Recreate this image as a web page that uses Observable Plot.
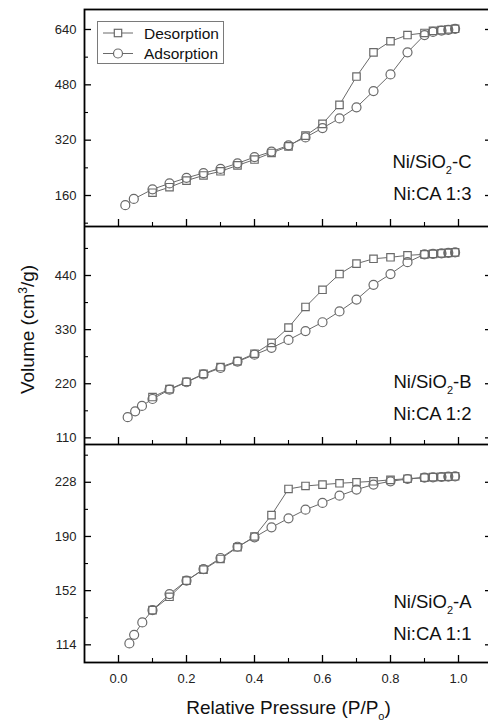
<!DOCTYPE html>
<html>
<head>
<meta charset="utf-8">
<script src="https://cdn.jsdelivr.net/npm/d3@7"></script>
<script src="https://cdn.jsdelivr.net/npm/@observablehq/plot@0.6"></script>
<style>
  html, body { margin: 0; padding: 0; background: #fff; overflow: hidden; }
  #wrap { position: relative; width: 488px; height: 726px; overflow: hidden; background: #fff; }
  #wrap svg { display: block; max-width: none !important; }
  #legend { position: absolute; left: 97px; top: 21px; }
</style>
</head>
<body>
<div id="wrap"></div>
<script>
// ---------- data ----------
const xMajor = [0, 0.2, 0.4, 0.6, 0.8, 1.0];
const xMinor = [0.1, 0.3, 0.5, 0.7, 0.9];
const desP = [0.99, 0.97, 0.95, 0.925, 0.9, 0.85, 0.8, 0.75, 0.7, 0.65, 0.6, 0.55, 0.5, 0.45, 0.4, 0.35, 0.3, 0.25, 0.2, 0.15, 0.1];

// Ni/SiO2-C (Ni:CA 1:3)
const cAdsP = [0.02, 0.045, 0.1, 0.15, 0.2, 0.25, 0.3, 0.35, 0.4, 0.45, 0.5, 0.55, 0.6, 0.65, 0.7, 0.75, 0.8, 0.85, 0.9, 0.925, 0.95, 0.97, 0.99];
const cAdsV = [132, 150, 178, 195, 211, 225, 237, 253, 271, 287, 305, 328, 355, 383, 415, 462, 510, 574, 624, 633, 637, 639, 642];
const cDesV = [642, 640, 638, 636, 630, 624, 606, 574, 504, 422, 367, 333, 302, 283, 264, 247, 230, 218, 203, 184, 168];
const cMajor = [160, 320, 480, 640];
const cMinor = [80, 240, 400, 560];

// Ni/SiO2-B (Ni:CA 1:2)
const bAdsP = [0.027, 0.049, 0.069, 0.1, 0.15, 0.2, 0.25, 0.3, 0.35, 0.4, 0.45, 0.5, 0.55, 0.6, 0.65, 0.7, 0.75, 0.8, 0.85, 0.9, 0.925, 0.95, 0.97, 0.99];
const bAdsV = [152, 164, 175, 189, 208, 223, 239, 252, 265, 279, 293, 309, 327, 345, 367, 391, 421, 443, 467, 483, 484, 485, 486, 487];
const bDesV = [487, 486, 485, 484, 483, 481, 477, 474, 464, 443, 411, 376, 334, 303, 281, 266, 254, 240, 224, 209, 193];
const bMajor = [110, 220, 330, 440];
const bMinor = [165, 275, 385, 495];

// Ni/SiO2-A (Ni:CA 1:1)
const aAdsP = [0.032, 0.046, 0.07, 0.1, 0.15, 0.2, 0.25, 0.3, 0.35, 0.4, 0.45, 0.5, 0.55, 0.6, 0.65, 0.7, 0.75, 0.8, 0.85, 0.9, 0.925, 0.95, 0.97, 0.99];
const aAdsV = [115, 121, 129.7, 138.3, 149.6, 159, 167.1, 174.9, 182.8, 189.4, 196.4, 202.7, 208.8, 213.5, 218.6, 222.9, 226.4, 228.7, 230.3, 231.3, 231.5, 231.7, 232, 232.2];
const aDesV = [232.2, 232, 231.8, 231.6, 231.3, 230.5, 229.7, 228.7, 228, 227.3, 226.4, 225.4, 223.3, 205, 190, 182.4, 174.2, 166.7, 159, 147.7, 138.3];
const aMajor = [114, 152, 190, 228];
const aMinor = [133, 171, 209, 247];

const seriesNames = ["Desorption", "Adsorption"];
const yLabel = "Volume (cm3/g)";
const xLabel = "Relative Pressure (P/Po)";

// ---------- styling ----------
const FONT = "'Liberation Sans', Arial, Helvetica, sans-serif";
const W = 492, ML = 84;
const PW = W - ML;
const GRAY = "#6a6a6a";

function rows(ps, vs) { return ps.map((p, i) => ({p, v: vs[i]})); }

function panel(o) {
  const ads = rows(o.adsP, o.adsV);
  const des = rows(desP, o.desV);
  const marks = [
    Plot.axisY({ticks: o.major, tickSize: 0, tickPadding: 8, label: null, fontSize: 13, fill: "#222"}),
    Plot.tickY(o.major, {y: d => d, insetRight: PW - 7, stroke: "#000", strokeWidth: 1.3}),
    Plot.tickY(o.minor, {y: d => d, insetRight: PW - 4, stroke: "#000", strokeWidth: 1.1}),
    Plot.tickY(o.major, {y: d => d, insetLeft: PW - 7, stroke: "#000", strokeWidth: 1.3}),
    Plot.tickY(o.minor, {y: d => d, insetLeft: PW - 4, stroke: "#000", strokeWidth: 1.1}),
    Plot.tickX(xMajor, {x: d => d, insetTop: o.h - 7, stroke: "#000", strokeWidth: 1.3}),
    Plot.tickX(xMinor, {x: d => d, insetTop: o.h - 4, stroke: "#000", strokeWidth: 1.1}),
    Plot.line(des, {x: "p", y: "v", stroke: GRAY, strokeWidth: 1}),
    Plot.line(ads, {x: "p", y: "v", stroke: GRAY, strokeWidth: 1}),
    Plot.dot(des, {x: "p", y: "v", symbol: "square", r: 4.2, fill: "white", stroke: "none"}),
    Plot.dot(ads, {x: "p", y: "v", symbol: "circle", r: 4.5, fill: "white", stroke: "none"}),
    Plot.dot(des, {x: "p", y: "v", symbol: "square", r: 4.2, fill: "none", stroke: GRAY, strokeWidth: 1.2}),
    Plot.dot(ads, {x: "p", y: "v", symbol: "circle", r: 4.5, fill: "none", stroke: GRAY, strokeWidth: 1.2}),
    Plot.text([o.name], {frameAnchor: "bottom-right", lineAnchor: "middle", textAnchor: "end", dx: -21, dy: -(o.b1 + 5.9), fontSize: 18.5, fill: "#111"}),
    Plot.text([o.ratio], {frameAnchor: "bottom-right", lineAnchor: "middle", textAnchor: "end", dx: -21, dy: -(o.b2 + 5.9), fontSize: 18.5, fill: "#111"}),
    Plot.frame({stroke: "#000", strokeWidth: 1.8})
  ];
  if (o.showX) {
    marks.push(Plot.axisX({ticks: xMajor, tickSize: 0, tickPadding: 11, tickFormat: d3.format(".1f"), label: null, fontSize: 13, fill: "#222"}));
    marks.push(Plot.text([xLabel], {frameAnchor: "bottom", lineAnchor: "middle", textAnchor: "middle", dy: 45, fontSize: 19, fill: "#111"}));
  }
  if (o.yLab) {
    marks.push(Plot.text([yLabel], {frameAnchor: "left", rotate: -90, lineAnchor: "middle", textAnchor: "middle", dx: -57, dy: -6, fontSize: 19, fill: "#111"}));
  }
  return Plot.plot({
    width: W,
    height: o.top + o.h + o.bottom,
    marginLeft: ML, marginRight: 0, marginTop: o.top, marginBottom: o.bottom,
    x: {domain: [-0.1, 1.1], axis: o.showX ? undefined : null},
    y: {domain: o.domain},
    style: {fontFamily: FONT, background: "white", color: "#000", maxWidth: "none"},
    marks
  });
}

function rich(svg) {
  const NS = "http://www.w3.org/2000/svg";
  const rules = [
    {re: /^(.*SiO)2(.*)$/, kind: "sub", ch: "2"},
    {re: /^(.*cm)3(\/g\))$/, kind: "sup", ch: "3"},
    {re: /^(.*P\/P)o(\))$/, kind: "sub", ch: "o"}
  ];
  svg.querySelectorAll("text").forEach(t => {
    if (t.querySelector("tspan")) return;
    const s = t.textContent;
    for (const r of rules) {
      const m = s.match(r.re);
      if (!m) continue;
      const shift = r.kind === "sub" ? 6 : -7;
      t.textContent = "";
      const a = document.createElementNS(NS, "tspan"); a.textContent = m[1];
      const b = document.createElementNS(NS, "tspan"); b.textContent = r.ch;
      b.setAttribute("font-size", r.kind === "sub" ? "11" : "12");
      b.setAttribute("dy", shift);
      const c = document.createElementNS(NS, "tspan"); c.textContent = m[2];
      c.setAttribute("dy", -shift);
      t.append(a, b, c);
      break;
    }
  });
}

const wrap = document.getElementById("wrap");
const panels = [
  {adsP: cAdsP, adsV: cAdsV, desV: cDesV, domain: [70.4, 697.8], major: cMajor, minor: cMinor,
   name: "Ni/SiO2-C", ratio: "Ni:CA 1:3", top: 9, h: 217, bottom: 0, b1: 59, b2: 27},
  {adsP: bAdsP, adsV: bAdsV, desV: bDesV, domain: [96.5, 539.6], major: bMajor, minor: bMinor,
   name: "Ni/SiO2-B", ratio: "Ni:CA 1:2", top: 0, h: 218, bottom: 0, b1: 57, b2: 25, yLab: true},
  {adsP: aAdsP, adsV: aAdsV, desV: aDesV, domain: [101.6, 254.5], major: aMajor, minor: aMinor,
   name: "Ni/SiO2-A", ratio: "Ni:CA 1:1", top: 0, h: 218, bottom: 64, b1: 55, b2: 23, showX: true}
];
for (const p of panels) {
  const svg = panel(p);
  rich(svg);
  svg.style.maxWidth = "none";
  wrap.appendChild(svg);
}

// legend (inside top panel)
const lg = document.createElement("div");
lg.id = "legend";
const sym = (i) => i === 0
  ? `<rect x="17.3" y="-3.7" width="7.4" height="7.4" fill="white" stroke="${GRAY}" stroke-width="1.2"/>`
  : `<circle cx="21" cy="0" r="4.5" fill="white" stroke="${GRAY}" stroke-width="1.2"/>`;
lg.innerHTML = `<svg width="127" height="43" style="display:block;font-family:${FONT}">
  <rect x="0.5" y="0.5" width="126" height="42" fill="white" stroke="#7a7a7a" stroke-width="1"/>
  ${seriesNames.map((n, i) => `<g transform="translate(0,${i === 0 ? 12 : 32.5})">
     <line x1="6" x2="36" y1="0" y2="0" stroke="${GRAY}" stroke-width="1"/>
     ${sym(i)}
     <text x="47" y="5.5" font-size="15.5" fill="#111">${n}</text></g>`).join("")}
</svg>`;
wrap.appendChild(lg);
</script>
</body>
</html>
